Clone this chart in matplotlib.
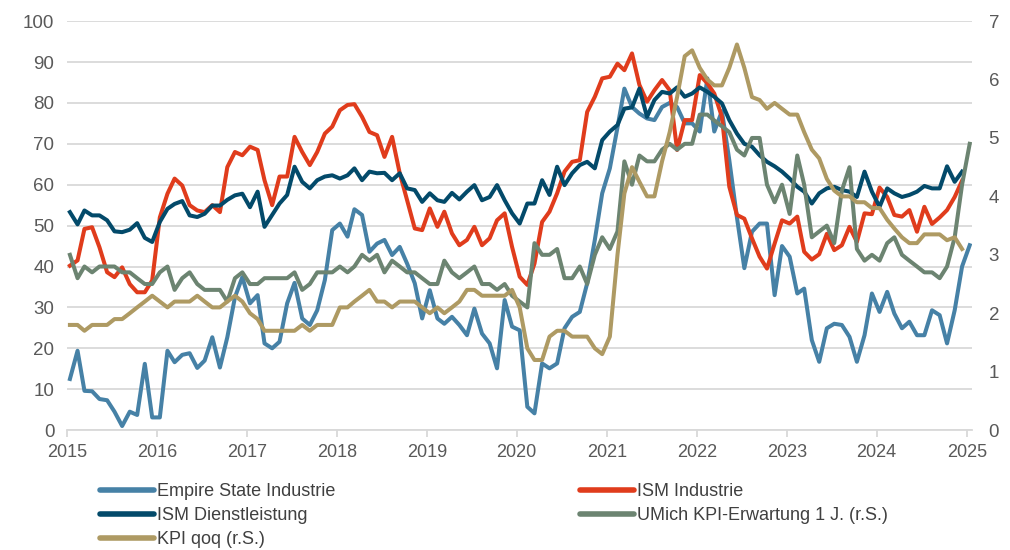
import numpy as np
import pandas as pd
import matplotlib
matplotlib.use("Agg")
import matplotlib.pyplot as plt
import matplotlib.dates as mdates

# monthly data, Jan 2015 onwards
empire = [12.5, 19.4, 9.6, 9.5, 7.6, 7.3, 4.5, 1.0, 4.5, 3.7, 16.2, 3.1,
          3.1, 19.4, 16.6, 18.4, 18.8, 15.2, 17.0, 22.7, 15.3, 22.7, 32.5, 37.4,
          31.0, 33.0, 21.2, 20.0, 21.6, 31.0, 36.0, 27.3, 25.7, 29.3, 36.7, 48.9,
          50.5, 47.3, 54.0, 52.6, 43.6, 45.6, 46.5, 42.8, 44.8, 40.7, 35.9, 27.3,
          34.2, 27.3, 26.0, 27.7, 25.7, 23.2, 29.7, 23.6, 21.2, 15.1, 31.8, 25.3,
          24.4, 5.7, 4.1, 16.3, 15.1, 16.3, 24.9, 27.7, 28.9, 35.9, 46.5, 57.9,
          64.0, 74.0, 83.5, 79.0, 77.4, 76.2, 75.8, 79.0, 80.0, 79.0, 75.0, 75.0,
          73.0, 86.0, 73.0, 78.0, 66.0, 52.0, 39.6, 48.5, 50.5, 50.5, 33.0, 45.0,
          42.4, 33.4, 34.6, 22.0, 16.7, 24.9, 26.0, 25.7, 22.8, 16.7, 23.2, 33.4,
          28.9, 33.8, 28.5, 24.9, 26.5, 23.2, 23.2, 29.3, 28.1, 21.2, 29.3, 40.0,
          45.2]

ism_ind = [40.2, 41.5, 49.2, 49.6, 44.7, 38.6, 37.4, 39.8, 35.7, 33.7, 33.7, 36.6,
           52.0, 57.8, 61.5, 59.8, 55.0, 53.7, 53.3, 55.0, 53.3, 64.3, 68.0, 67.2,
           69.3, 68.5, 61.1, 55.0, 62.0, 62.0, 71.7, 68.0, 64.8, 68.0, 72.5, 74.2,
           78.2, 79.5, 79.7, 76.6, 72.9, 72.1, 66.8, 71.7, 62.8, 56.2, 49.3, 48.9,
           54.2, 49.7, 53.4, 48.1, 45.2, 46.5, 49.7, 45.2, 46.9, 51.3, 53.0, 44.8,
           37.5, 35.5, 40.7, 50.9, 53.4, 57.9, 63.2, 65.6, 66.0, 77.8, 81.5, 86.0,
           86.4, 89.6, 88.0, 92.1, 84.4, 80.3, 83.1, 85.6, 83.1, 68.5, 75.8, 75.8,
           86.8, 84.8, 82.3, 76.6, 59.5, 52.6, 51.7, 46.9, 42.4, 39.5, 45.6, 51.3,
           50.5, 52.2, 43.6, 41.7, 43.0, 48.0, 44.0, 45.2, 49.7, 46.0, 53.0, 52.8,
           59.3, 57.0, 52.6, 52.2, 53.8, 48.5, 54.6, 50.4, 52.0, 53.8, 57.0, 61.0]

ism_dienst = [53.3, 50.3, 53.7, 52.5, 52.5, 51.3, 48.6, 48.4, 49.0, 50.6, 47.0, 46.0,
              50.9, 54.1, 55.3, 56.0, 52.5, 52.1, 52.9, 54.9, 54.9, 56.3, 57.4, 57.8,
              54.5, 58.3, 49.7, 52.6, 55.4, 57.5, 64.4, 60.7, 59.1, 61.1, 62.0, 62.3,
              61.5, 62.3, 64.0, 61.1, 63.2, 62.8, 62.9, 61.1, 62.8, 59.1, 58.7, 55.8,
              57.9, 56.2, 55.8, 58.0, 56.4, 58.3, 59.9, 56.2, 57.0, 59.9, 56.2, 53.0,
              50.5, 55.4, 55.4, 61.1, 57.5, 64.4, 59.9, 62.8, 64.8, 65.6, 64.0, 70.9,
              73.0, 74.6, 78.6, 78.9, 83.5, 76.6, 80.7, 82.7, 82.3, 83.8, 81.5, 82.3,
              83.8, 82.7, 81.5, 79.9, 75.8, 72.5, 70.0, 69.3, 67.2, 65.6, 64.5, 63.2,
              61.5, 59.5, 58.3, 55.4, 57.9, 59.1, 59.5, 58.7, 58.3, 57.0, 63.2, 58.3,
              54.6, 59.1, 57.9, 57.0, 57.5, 58.3, 59.7, 59.1, 59.1, 64.5, 60.7, 63.2]

umich = [3.0, 2.6, 2.8, 2.7, 2.8, 2.8, 2.8, 2.7, 2.7, 2.6, 2.5, 2.5,
         2.7, 2.8, 2.4, 2.6, 2.7, 2.5, 2.4, 2.4, 2.4, 2.2, 2.6, 2.7,
         2.5, 2.5, 2.6, 2.6, 2.6, 2.6, 2.7, 2.4, 2.5, 2.7, 2.7, 2.7,
         2.8, 2.7, 2.8, 3.0, 2.9, 3.0, 2.7, 2.9, 2.8, 2.7, 2.7, 2.6,
         2.5, 2.5, 2.9, 2.7, 2.6, 2.7, 2.8, 2.5, 2.5, 2.4, 2.5, 2.3,
         2.2, 2.1, 3.2, 3.0, 3.0, 3.1, 2.6, 2.6, 2.8, 2.5, 3.0, 3.3,
         3.1, 3.4, 4.6, 4.2, 4.7, 4.6, 4.6, 4.8, 4.9, 4.8, 4.9, 4.9,
         5.4, 5.4, 5.3, 5.2, 5.1, 4.8, 4.7, 5.0, 5.0, 4.2, 3.9, 4.2,
         3.7, 4.7, 4.2, 3.3, 3.4, 3.5, 3.2, 4.1, 4.5, 3.1, 2.9, 3.0,
         2.9, 3.2, 3.3, 3.0, 2.9, 2.8, 2.7, 2.7, 2.6, 2.8, 3.3, 4.2,
         4.9]

kpi = [1.8, 1.8, 1.7, 1.8, 1.8, 1.8, 1.9, 1.9, 2.0, 2.1, 2.2, 2.3,
       2.2, 2.1, 2.2, 2.2, 2.2, 2.3, 2.2, 2.1, 2.1, 2.2, 2.3, 2.2,
       2.0, 1.9, 1.7, 1.7, 1.7, 1.7, 1.7, 1.8, 1.7, 1.8, 1.8, 1.8,
       2.1, 2.1, 2.2, 2.3, 2.4, 2.2, 2.2, 2.1, 2.2, 2.2, 2.2, 2.1,
       2.0, 2.1, 2.0, 2.1, 2.2, 2.4, 2.4, 2.3, 2.3, 2.3, 2.3, 2.4,
       2.1, 1.4, 1.2, 1.2, 1.6, 1.7, 1.7, 1.6, 1.6, 1.6, 1.4, 1.3,
       1.6, 3.0, 4.05, 4.5, 4.25, 4.0, 4.0, 4.6, 5.1, 5.7, 6.4, 6.5,
       6.2, 6.0, 5.9, 5.9, 6.2, 6.6, 6.2, 5.7, 5.65, 5.5, 5.6, 5.5,
       5.4, 5.4, 5.1, 4.8, 4.65, 4.3, 4.1, 4.0, 4.0, 3.9, 3.9, 3.8,
       3.8, 3.6, 3.45, 3.3, 3.2, 3.2, 3.35, 3.35, 3.35, 3.25, 3.3, 3.1]

labels = ["Empire State Industrie", "ISM Industrie", "ISM Dienstleistung",
          "UMich KPI-Erwartung 1 J. (r.S.)", "KPI qoq (r.S.)"]
colors = ["#4681A6", "#E03C1C", "#034A6A", "#6C8471", "#AE9A63"]


def months(n):
    return pd.date_range("2015-01-01", periods=n, freq="MS") + pd.Timedelta(days=12)


fig = plt.figure(figsize=(10.1, 5.5), dpi=100)
ax = fig.add_axes([0.0663, 0.218, 0.896, 0.7436])
ax2 = ax.twinx()

lw = 2.9
ax.plot(months(len(empire)), empire, color=colors[0], lw=lw, solid_joinstyle="round")
ax.plot(months(len(ism_ind)), ism_ind, color=colors[1], lw=lw, solid_joinstyle="round")
ax.plot(months(len(ism_dienst)), ism_dienst, color=colors[2], lw=lw, solid_joinstyle="round")
ax2.plot(months(len(umich)), umich, color=colors[3], lw=lw, solid_joinstyle="round")
ax2.plot(months(len(kpi)), kpi, color=colors[4], lw=lw, solid_joinstyle="round")

tick_color = "#595959"
ax.set_xlim(pd.Timestamp("2015-01-01"), pd.Timestamp("2025-01-22"))
ax.set_ylim(0, 100)
ax.set_yticks(range(0, 101, 10))
ax2.set_ylim(0, 7)
ax2.set_yticks(range(0, 8))

ax.xaxis.set_major_locator(mdates.YearLocator())
ax.xaxis.set_major_formatter(mdates.DateFormatter("%Y"))

ax.grid(axis="y", color="#D9D9D9", lw=1.3)
ax.set_axisbelow(True)
for a in (ax, ax2):
    for s in ("top", "left", "right"):
        a.spines[s].set_visible(False)
ax2.spines["bottom"].set_visible(False)
ax.spines["bottom"].set_color("#D9D9D9")
ax.spines["bottom"].set_linewidth(1.3)

ax.tick_params(axis="x", colors="#D9D9D9", length=5, width=1.3, labelcolor=tick_color,
               labelsize=13, pad=5)
ax.tick_params(axis="y", length=0, labelcolor=tick_color, labelsize=13.5, pad=9)
ax2.tick_params(axis="y", length=0, labelcolor=tick_color, labelsize=13.5, pad=12)
for lab in ax.get_xticklabels() + ax.get_yticklabels() + ax2.get_yticklabels():
    lab.set_fontfamily(["Liberation Sans", "DejaVu Sans"])

leg_font = {"family": ["Liberation Sans Narrow", "Liberation Sans", "DejaVu Sans"], "size": 13}
leg_kw = dict(frameon=False, handlelength=3.0, handletextpad=0.15, labelspacing=0.4,
              borderpad=0, borderaxespad=0, prop=leg_font, labelcolor="#404040")
hl = [plt.Line2D([], [], color=c, lw=4, solid_capstyle="round") for c in colors]
fig.legend([hl[0], hl[2], hl[4]], [labels[0], labels[2], labels[4]],
           loc="upper left", bbox_to_anchor=(0.099, 0.122), **leg_kw)
fig.legend([hl[1], hl[3]], [labels[1], labels[3]],
           loc="upper left", bbox_to_anchor=(0.574, 0.122), **leg_kw)

fig.savefig("out.png", dpi=100)
